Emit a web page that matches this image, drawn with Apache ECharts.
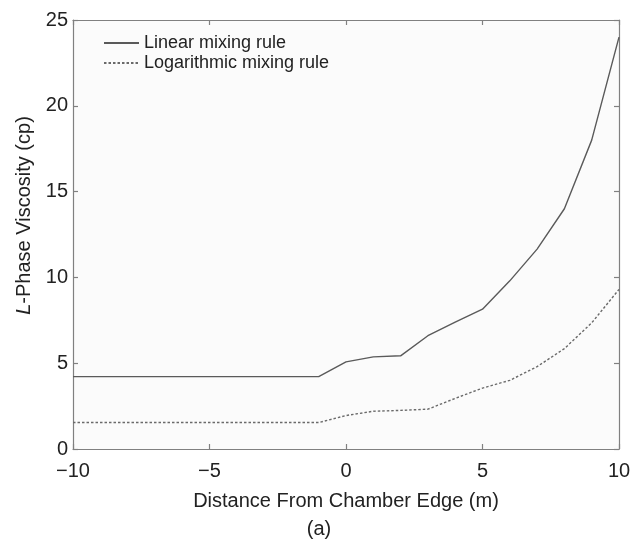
<!DOCTYPE html>
<html>
<head>
<meta charset="utf-8">
<style>
  html, body { margin: 0; padding: 0; background: #ffffff; }
  #chart { width: 638px; height: 541px; }
</style>
<script src="https://cdn.jsdelivr.net/npm/echarts@6/dist/echarts.min.js"></script>
</head>
<body>
<div id="chart"></div>
<script>
// Distance from chamber edge (m)
const distance = [-10, -9, -8, -7, -6, -5, -4, -3, -2, -1, 0, 1, 2, 3, 4, 5, 6, 7, 8, 9, 10];
// L-phase viscosity (cp), linear mixing rule
const linearRule = [4.22, 4.22, 4.22, 4.22, 4.22, 4.22, 4.22, 4.22, 4.22, 4.22, 5.08, 5.37, 5.43, 6.6, 7.4, 8.15, 9.8, 11.65, 14.0, 18.0, 24.0];
// L-phase viscosity (cp), logarithmic mixing rule
const logRule = [1.54, 1.54, 1.54, 1.54, 1.54, 1.54, 1.54, 1.54, 1.54, 1.54, 1.95, 2.2, 2.25, 2.32, 2.95, 3.55, 4.0, 4.8, 5.85, 7.35, 9.3];
const xTicks = [-10, -5, 0, 5, 10];
const yTicks = [0, 5, 10, 15, 20, 25];

const font = '"Liberation Sans", Arial, Helvetica, sans-serif';
const axisGray = '#808080';
const inkColor = '#222222';

const chart = echarts.init(document.getElementById('chart'), null, { renderer: 'canvas' });

const pairs = (ys) => distance.map((x, i) => [x, ys[i]]);

const axisLine = { show: true, onZero: false, lineStyle: { color: axisGray, width: 1.2 } };
const axisTick = { show: true, inside: true, length: 5, lineStyle: { color: axisGray, width: 1.2 } };

const baseX = {
  type: 'value',
  min: xTicks[0],
  max: xTicks[xTicks.length - 1],
  interval: 5,
  axisLine, axisTick,
  splitLine: { show: false }
};
const baseY = {
  type: 'value',
  min: yTicks[0],
  max: yTicks[yTicks.length - 1],
  interval: 5,
  axisLine, axisTick,
  splitLine: { show: false }
};

chart.setOption({
  backgroundColor: '#ffffff',
  animation: false,
  textStyle: { fontFamily: font },
  grid: {
    left: 73, right: 19, top: 20, bottom: 92,
    outerBoundsMode: 'none',
    containLabel: false,
    show: true, backgroundColor: '#fbfbfb', borderWidth: 0
  },
  title: {
    text: '(a)',
    left: 'center',
    top: 519,
    padding: 0,
    textStyle: { fontFamily: font, fontSize: 20, fontWeight: 'normal', color: inkColor }
  },
  legend: {
    left: 98,
    top: 29,
    orient: 'vertical',
    itemWidth: 35,
    itemHeight: 12,
    itemGap: 2,
    itemStyle: { opacity: 0 },
    textStyle: { fontFamily: font, fontSize: 18, color: inkColor },
    data: ['Linear mixing rule', 'Logarithmic mixing rule']
  },
  xAxis: [
    Object.assign({}, baseX, {
      position: 'bottom',
      name: 'Distance From Chamber Edge (m)',
      nameLocation: 'middle',
      nameGap: 42,
      nameTextStyle: { fontFamily: font, fontSize: 20, color: inkColor },
      axisLabel: {
        show: true, margin: 12, fontFamily: font, fontSize: 20, color: inkColor,
        formatter: (v) => (v < 0 ? '\u2212' + Math.abs(v) : String(v))
      }
    }),
    Object.assign({}, baseX, { position: 'top', axisLabel: { show: false } })
  ],
  yAxis: [
    Object.assign({}, baseY, {
      position: 'left',
      name: '{it|L}-Phase Viscosity (cp)',
      nameLocation: 'middle',
      nameGap: 37,
      nameTextStyle: {
        fontFamily: font, fontSize: 20, color: inkColor,
        padding: [0, 0, 0, 38],
        rich: { it: { fontFamily: font, fontSize: 20, fontStyle: 'italic', color: inkColor } }
      },
      axisLabel: { show: true, margin: 5, fontFamily: font, fontSize: 20, color: inkColor }
    }),
    Object.assign({}, baseY, { position: 'right', axisLabel: { show: false } })
  ],
  series: [
    {
      name: 'Linear mixing rule',
      type: 'line',
      data: pairs(linearRule),
      xAxisIndex: 0, yAxisIndex: 0,
      symbol: 'none',
      lineStyle: { color: '#5a5a5a', width: 1.4, type: 'solid' },
      itemStyle: { color: '#5a5a5a' }
    },
    {
      name: 'Logarithmic mixing rule',
      type: 'line',
      data: pairs(logRule),
      xAxisIndex: 0, yAxisIndex: 0,
      symbol: 'none',
      lineStyle: { color: '#6a6a6a', width: 1.4, type: [2.5, 2] },
      itemStyle: { color: '#6a6a6a' }
    }
  ]
});
</script>
</body>
</html>
